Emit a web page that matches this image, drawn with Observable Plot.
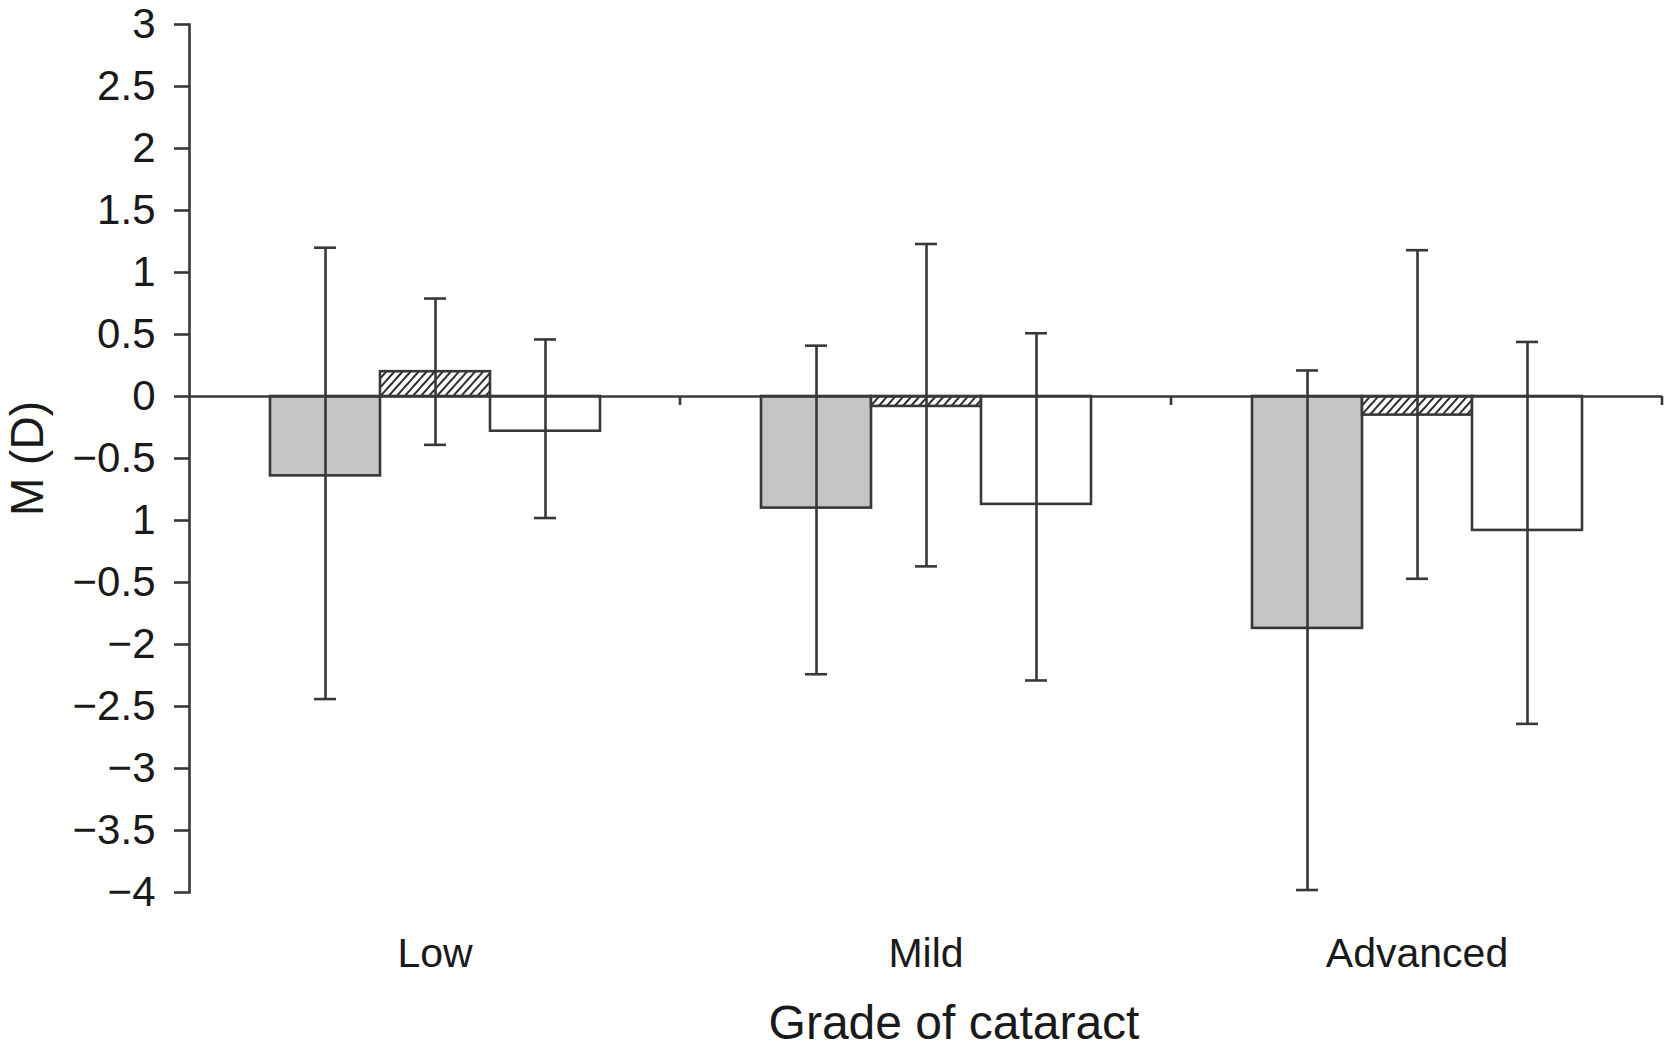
<!DOCTYPE html>
<html>
<head>
<meta charset="utf-8">
<script src="https://cdn.jsdelivr.net/npm/d3@7"></script>
<script src="https://cdn.jsdelivr.net/npm/@observablehq/plot@0.6"></script>
<style>
  body { margin: 0; background: #fff; }
  #chart svg { font-family: "Liberation Sans", Arial, sans-serif; background: #fff; }
  #chart g[aria-label="y-axis tick label"] text { font-size: 42px; }
  #chart g[aria-label="fx-axis tick label"] text { font-size: 41px; }
  #chart g[aria-label="y-axis label"] text { font-size: 46px; }
  #chart g[aria-label="fx-axis label"] text { font-size: 48px; }
</style>
</head>
<body>
<div id="chart"></div>
<script>
// Grade of cataract, three groups per grade (grey, hatched, open bars)
const grades = ["Low", "Mild", "Advanced"];
const groups = ["grey", "hatched", "open"];

// bar heights (means)
const meanGrey = [-0.64, -0.90, -1.87];
const meanHatched = [0.20, -0.08, -0.15];
const meanOpen = [-0.28, -0.87, -1.08];

// error bar ends
const upperGrey = [1.20, 0.41, 0.21];
const upperHatched = [0.79, 1.23, 1.18];
const upperOpen = [0.46, 0.51, 0.44];
const lowerGrey = [-2.44, -2.24, -3.98];
const lowerHatched = [-0.39, -1.37, -1.47];
const lowerOpen = [-0.98, -2.29, -2.64];

// y ticks and the labels as printed in the figure
const yTicks = [3, 2.5, 2, 1.5, 1, 0.5, 0, -0.5, -1, -1.5, -2, -2.5, -3, -3.5, -4];
const yTickLabels = ["3", "2.5", "2", "1.5", "1", "0.5", "0", "\u22120.5", "1", "\u22120.5", "\u22122", "\u22122.5", "\u22123", "\u22123.5", "\u22124"];

const ink = "#383838";
const fills = {grey: "#c4c5c7", hatched: "url(#hatch)", open: "#ffffff"};

const means = {grey: meanGrey, hatched: meanHatched, open: meanOpen};
const uppers = {grey: upperGrey, hatched: upperHatched, open: upperOpen};
const lowers = {grey: lowerGrey, hatched: lowerHatched, open: lowerOpen};

const rows = [];
grades.forEach((grade, i) => {
  groups.forEach(group => {
    rows.push({grade, group, mean: means[group][i], upper: uppers[group][i], lower: lowers[group][i]});
  });
});

// small downward ticks at the category boundaries of the x axis
function boundaryTicks(index, scales) {
  const g = d3.create("svg:g");
  const xr = scales.x.range();
  const y0 = scales.y(0);
  g.append("line")
    .attr("x1", xr[1]).attr("x2", xr[1])
    .attr("y1", y0).attr("y2", y0 + 9)
    .attr("stroke", ink).attr("stroke-width", 2.6);
  return g.node();
}

function render() {
  const container = document.getElementById("chart");
  container.innerHTML = "";
  const plot = Plot.plot({
    width: 1665,
    height: 1062,
    marginLeft: 188,
    marginRight: 3,
    marginTop: 24,
    marginBottom: 170,
    color: {type: "identity"},
    fx: {domain: grades, padding: 0},
    x: {domain: groups, paddingInner: 0, paddingOuter: 0.723, axis: null},
    y: {domain: [-4, 3]},
    marks: [
      Plot.barY(rows, {fx: "grade", x: "group", y: "mean", fill: d => fills[d.group], stroke: ink, strokeWidth: 2.6}),
      Plot.ruleY([0], {stroke: ink, strokeWidth: 2.6}),
      Plot.ruleX(rows, {fx: "grade", x: "group", y1: "lower", y2: "upper", stroke: ink, strokeWidth: 2.6}),
      Plot.tickY(rows, {fx: "grade", x: "group", y: "upper", insetLeft: 44, insetRight: 44, stroke: ink, strokeWidth: 2.6}),
      Plot.tickY(rows, {fx: "grade", x: "group", y: "lower", insetLeft: 44, insetRight: 44, stroke: ink, strokeWidth: 2.6}),
      boundaryTicks,
      Plot.frame({anchor: "left", facet: "super", stroke: ink, strokeWidth: 2.6}),
      Plot.axisY({
        ticks: yTicks,
        tickFormat: d => yTickLabels[yTicks.indexOf(d)],
        tickSize: 15,
        tickPadding: 19,
        stroke: ink,
        strokeWidth: 2.6,
        fill: "#1a1a1a",
        label: "M (D)",
        labelAnchor: "center",
        labelArrow: "none",
        labelOffset: 179
      }),
      Plot.axisFx({
        anchor: "bottom",
        tickSize: 0,
        tickPadding: 45,
        fill: "#1a1a1a",
        label: "Grade of cataract",
        labelAnchor: "center",
        labelArrow: "none",
        labelOffset: 146
      })
    ]
  });

  // the axis title sits a little right of centre in the original
  d3.select(plot).select('g[aria-label="fx-axis label"] text').attr("dx", 28);

  // diagonal hatch used by the middle bars
  const defs = d3.select(plot).insert("defs", ":first-child");
  const pat = defs.append("pattern")
    .attr("id", "hatch")
    .attr("patternUnits", "userSpaceOnUse")
    .attr("width", 6).attr("height", 6)
    .attr("patternTransform", "rotate(42)");
  pat.append("rect").attr("width", 6).attr("height", 6).attr("fill", "#fff");
  pat.append("line")
    .attr("x1", 1).attr("y1", 0).attr("x2", 1).attr("y2", 6)
    .attr("stroke", "#2e2e2e").attr("stroke-width", 2);

  container.appendChild(plot);
}

render();
</script>
</body>
</html>
